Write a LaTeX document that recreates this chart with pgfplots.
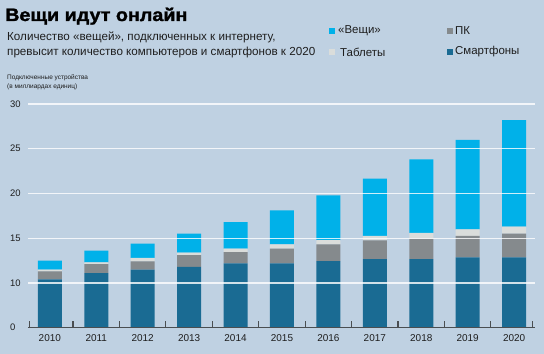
\documentclass[border=0pt]{standalone}
\usepackage{pgfplots}
\usepackage{pgfplotstable}
\pgfplotsset{compat=1.18}
\usepackage{fontspec}
\setmainfont{Liberation Sans}
\newfontfamily\titlefont{Liberation Sans Bold}[FakeBold=1.5]
\definecolor{bg}{HTML}{BFD1E2}
\definecolor{smart}{HTML}{1A6B93}
\definecolor{pc}{HTML}{858A8D}
\definecolor{tabl}{HTML}{DADDDB}
\definecolor{things}{HTML}{00B1E9}
\definecolor{axisc}{HTML}{4A4E51}
\definecolor{txt}{HTML}{1E1E1E}
\pgfplotstableread{
x S P T V
0 10.4 0.9 0.2 1.0
1 11.1 1.0 0.2 1.3
2 11.5 0.9 0.4 1.6
3 11.8 1.3 0.3 2.1
4 12.2 1.25 0.4 2.95
5 12.2 1.65 0.45 3.8
6 12.45 1.85 0.5 5.0
7 12.65 2.1 0.5 6.4
8 12.65 2.3 0.65 8.2
9 12.85 2.4 0.75 10.0
10 12.85 2.65 0.8 11.9
}\data
\begin{document}
\begin{tikzpicture}
\fill[bg] (0bp,0bp) rectangle (544bp,354bp);
\node[anchor=base west, inner sep=0, text=black, font=\titlefont\fontsize{18}{20}\selectfont] at (5bp,333bp) {\scalebox{1.1}[1]{Вещи идут онлайн}};
\node[anchor=base west, inner sep=0, text=txt, font=\fontsize{11.7}{14}\selectfont] at (7bp,313bp) {Количество «вещей», подключенных к интернету,};
\node[anchor=base west, inner sep=0, text=txt, font=\fontsize{11.7}{14}\selectfont] at (7bp,298bp) {превысит количество компьютеров и смартфонов к 2020};
% legend
\fill[things] (329bp,320bp) rectangle (335bp,326bp);
\node[anchor=west, inner sep=0, text=txt, font=\fontsize{11.5}{14}\selectfont] at (338bp,323bp) {«Вещи»};
\fill[tabl] (329bp,299bp) rectangle (335bp,305bp);
\node[anchor=west, inner sep=0, text=txt, font=\fontsize{11.5}{14}\selectfont] at (340bp,302bp) {Таблеты};
\fill[pc] (447bp,320bp) rectangle (453bp,326bp);
\node[anchor=west, inner sep=0, text=txt, font=\fontsize{11.5}{14}\selectfont] at (455bp,323bp) {ПК};
\fill[smart] (447bp,299bp) rectangle (453bp,305bp);
\node[anchor=west, inner sep=0, text=txt, font=\fontsize{11.5}{14}\selectfont] at (455bp,302bp) {Смартфоны};
\node[anchor=west, inner sep=0, text=txt, font=\fontsize{6.5}{8}\selectfont] at (7bp,276bp) {Подключенные устройства};
\node[anchor=west, inner sep=0, text=txt, font=\fontsize{6.5}{8}\selectfont] at (7bp,267bp) {(в миллиардах единиц)};
\begin{axis}[
  at={(28bp,26.3bp)}, anchor=south west,
  scale only axis, width=507bp, height=223.7bp,
  ybar stacked, bar width=24bp,
  xmin=-0.47, xmax=10.45, ymin=5, ymax=30,
  axis on top,
  axis x line*=bottom, axis y line*=left,
  y axis line style={draw=none},
  x axis line style={draw=axisc, line width=1bp},
  ytick={5,10,15,20,25,30}, yticklabels={0,10,15,20,25,30},
  xtick={0,1,2,3,4,5,6,7,8,9,10},
  xticklabels={2010,2011,2012,2013,2014,2015,2016,2017,2018,2019,2020},
  major tick length=0pt,
  ymajorgrids, grid style={white, opacity=0.8, line width=1.2bp},
  yticklabel style={anchor=west, inner sep=0pt, xshift=-18bp, font=\fontsize{9.5}{11}\selectfont, text=txt},
  xticklabel style={font=\fontsize{10}{12}\selectfont, text=txt, yshift=-3bp},
]
\addplot[fill=smart, draw=none] table[x=x,y=S]{\data};
\addplot[fill=pc, draw=none] table[x=x,y=P]{\data};
\addplot[fill=tabl, draw=none] table[x=x,y=T]{\data};
\addplot[fill=things, draw=none] table[x=x,y=V]{\data};
\end{axis}
% category separator ticks on the baseline
\begin{axis}[
  at={(28bp,26.3bp)}, anchor=south west,
  scale only axis, width=507bp, height=223.7bp,
  xmin=-0.47, xmax=10.45, ymin=0, ymax=25,
  hide axis, clip=false,
]
\addplot[ycomb, draw=axisc, line width=1.1bp, mark=none] coordinates {
(-0.44,0.7) (0.5,0.7) (1.5,0.7) (2.5,0.7) (3.5,0.7) (4.5,0.7) (5.5,0.7) (6.5,0.7) (7.5,0.7) (8.5,0.7) (9.5,0.7) (10.4,0.7)};
\end{axis}
\end{tikzpicture}
\end{document}
